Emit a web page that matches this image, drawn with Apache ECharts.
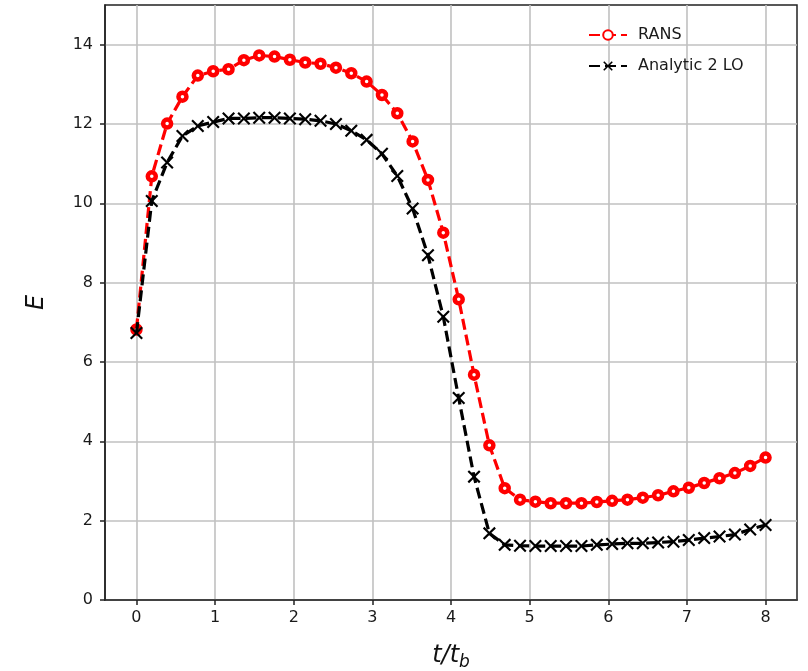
<!DOCTYPE html>
<html>
<head>
<meta charset="utf-8">
<script src="https://cdn.jsdelivr.net/npm/echarts@6/dist/echarts.min.js"></script>
<style>
html,body{margin:0;padding:0;background:#fff;}
#chart{width:808px;height:671px;}
</style>
</head>
<body>
<div id="chart"></div>
<script>
// Time values t/t_b (42 samples)
var tValues = [0, 0.195, 0.39, 0.585, 0.78, 0.976, 1.171, 1.366, 1.561, 1.756,
  1.951, 2.146, 2.341, 2.537, 2.732, 2.927, 3.122, 3.317, 3.512, 3.707,
  3.902, 4.098, 4.293, 4.488, 4.683, 4.878, 5.073, 5.268, 5.463, 5.659,
  5.854, 6.049, 6.244, 6.439, 6.634, 6.829, 7.024, 7.22, 7.415, 7.61,
  7.805, 8.0];
// RANS values of E
var ransE = [6.82, 10.68, 12.01, 12.69, 13.22, 13.33, 13.38, 13.61, 13.73, 13.70,
  13.62, 13.55, 13.52, 13.42, 13.28, 13.07, 12.73, 12.27, 11.56, 10.59,
  9.26, 7.58, 5.68, 3.90, 2.82, 2.53, 2.48, 2.44, 2.44, 2.44,
  2.47, 2.50, 2.53, 2.58, 2.64, 2.74, 2.83, 2.95, 3.07, 3.20,
  3.38, 3.59];
// Analytic 2 LO values of E
var analyticE = [6.73, 10.06, 11.03, 11.70, 11.95, 12.05, 12.14, 12.14, 12.16, 12.16,
  12.14, 12.12, 12.08, 12.00, 11.83, 11.60, 11.25, 10.69, 9.87, 8.69,
  7.14, 5.09, 3.11, 1.68, 1.39, 1.37, 1.36, 1.36, 1.36, 1.36,
  1.39, 1.41, 1.43, 1.43, 1.45, 1.47, 1.51, 1.56, 1.60, 1.65,
  1.78, 1.89];
var xTicks = [0, 1, 2, 3, 4, 5, 6, 7, 8];
var yTicks = [0, 2, 4, 6, 8, 10, 12, 14];
var seriesNames = ['RANS', 'Analytic 2 LO'];

function pairs(xs, ys) { return xs.map(function (x, i) { return [x, ys[i]]; }); }

var xSymbol = 'path://M0,1.4L1.4,0L6,4.6L10.6,0L12,1.4L7.4,6L12,10.6L10.6,12L6,7.4L1.4,12L0,10.6L4.6,6Z';
var font = 'DejaVu Sans';

var chart = echarts.init(document.getElementById('chart'), null, {renderer: 'canvas'});
chart.setOption({
  animation: false,
  backgroundColor: '#fff',
  textStyle: {fontFamily: font},
  grid: {left: 105, top: 5, right: 11, bottom: 71, containLabel: false, outerBoundsMode: 'none',
    show: true, borderColor: '#222', borderWidth: 1.5, backgroundColor: 'transparent'},
  legend: {
    orient: 'vertical', left: 583, top: 22, itemGap: 15, itemWidth: 38, itemHeight: 12,
    textStyle: {fontSize: 16, color: '#1a1a1a', fontFamily: font, padding: [0, 0, 0, 6]},
    data: seriesNames
  },
  xAxis: {
    type: 'value', min: -0.4, max: 8.4,
    name: '{a|t/t}{b|b}', nameLocation: 'middle', nameGap: 40,
    nameTextStyle: {rich: {
      a: {fontStyle: 'italic', fontSize: 24, fontFamily: font, color: '#111'},
      b: {fontStyle: 'italic', fontSize: 17, fontFamily: font, color: '#111', verticalAlign: 'bottom', padding: [14, 0, 0, 0]}
    }},
    axisLine: {show: true, onZero: false, lineStyle: {color: '#222', width: 1.5}},
    axisTick: {show: true, length: 5, customValues: xTicks, lineStyle: {color: '#222', width: 1.5}},
    axisLabel: {customValues: xTicks, fontSize: 16, color: '#1a1a1a', margin: 10, fontFamily: font},
    splitLine: {show: true, lineStyle: {color: '#c0c0c0', width: 1.6}}
  },
  yAxis: {
    type: 'value', min: 0, max: 15,
    name: 'E', nameLocation: 'middle', nameGap: 56, nameRotate: 90,
    nameTextStyle: {fontStyle: 'italic', fontSize: 24, color: '#111', fontFamily: font},
    axisLine: {show: true, onZero: false, lineStyle: {color: '#222', width: 1.5}},
    axisTick: {show: true, length: 5, customValues: yTicks, lineStyle: {color: '#222', width: 1.5}},
    axisLabel: {customValues: yTicks, fontSize: 16, color: '#1a1a1a', margin: 12, fontFamily: font},
    splitLine: {show: true, lineStyle: {color: '#c0c0c0', width: 1.6}}
  },
  series: [
    {
      name: seriesNames[0], type: 'line', data: pairs(tValues, ransE), z: 3,
      showAllSymbol: true, symbol: 'circle', symbolSize: 8,
      lineStyle: {color: '#ff0000', width: 3.2, type: [11, 5]},
      itemStyle: {color: '#ffffff', borderColor: '#ff0000', borderWidth: 4.5}
    },
    {
      name: seriesNames[1], type: 'line', data: pairs(tValues, analyticE), z: 4,
      showAllSymbol: true, symbol: xSymbol, symbolSize: 13,
      lineStyle: {color: '#000000', width: 3.2, type: [11, 5]},
      itemStyle: {color: '#000000'}
    }
  ]
});
</script>
</body>
</html>
